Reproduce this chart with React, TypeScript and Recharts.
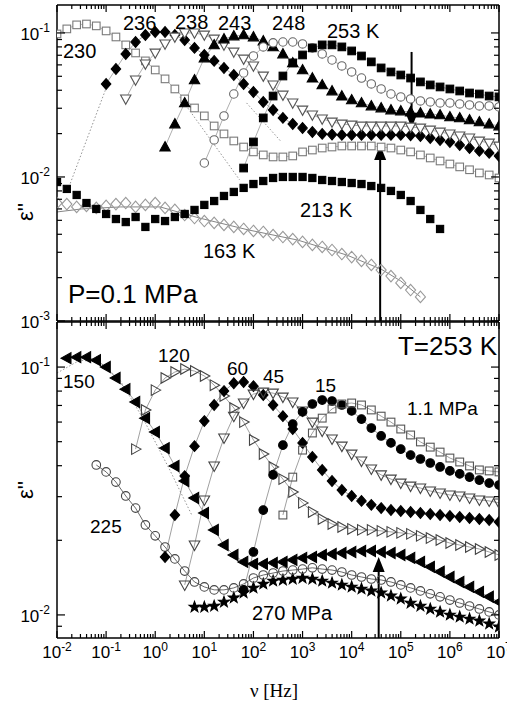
import React from 'react';
import { ComposedChart, Line, XAxis, YAxis, ReferenceLine } from 'recharts';

const W = 507;
const H = 705;
const SANS = 'Liberation Sans, Arial, Helvetica, sans-serif';
const SERIF = 'Liberation Serif, Times New Roman, serif';

// Shared measurement frequencies (Hz), 5 per decade
const NU_HZ = [0.01, 0.01585, 0.02512, 0.03981, 0.0631, 0.1, 0.1585, 0.2512, 0.3981, 0.631,
  1, 1.585, 2.512, 3.981, 6.31, 10, 15.85, 25.12, 39.81, 63.1,
  100, 158.5, 251.2, 398.1, 631, 1000, 1585, 2512, 3981, 6310,
  10000, 15850, 25120, 39810, 63100, 100000, 158500, 251200, 398100, 631000,
  1000000, 1585000, 2512000, 3981000, 6310000, 10000000];

// log10(eps''); `first` = index of first frequency in NU_HZ
// ---- top panel (P = 0.1 MPa), temperatures in K
const T230 = { first: 0, logEps: [-1.007, -0.972, -0.944, -0.938, -0.951, -0.986, -1.028, -1.083, -1.139, -1.194, -1.257, -1.319, -1.389, -1.458, -1.521, -1.576, -1.646, -1.701, -1.75, -1.792, -1.826, -1.847, -1.861, -1.861, -1.854, -1.826, -1.813, -1.799, -1.792, -1.785, -1.785, -1.785, -1.785, -1.792, -1.799, -1.813, -1.826, -1.847, -1.868, -1.889, -1.91, -1.93, -1.95, -1.972, -1.986, -2.007] };
const T236 = { first: 5, logEps: [-1.354, -1.25, -1.146, -1.063, -1.014, -0.993, -0.993, -1.014, -1.049, -1.104, -1.153, -1.194, -1.243, -1.292, -1.354, -1.41, -1.479, -1.535, -1.59, -1.632, -1.66, -1.688, -1.701, -1.705, -1.708, -1.708, -1.708, -1.708, -1.708, -1.708, -1.708, -1.71, -1.715, -1.729, -1.743, -1.757, -1.778, -1.799, -1.819, -1.833, -1.854] };
const T238 = { first: 7, logEps: [-1.458, -1.326, -1.215, -1.139, -1.076, -1.028, -1.0, -1.0, -1.014, -1.042, -1.083, -1.132, -1.181, -1.229, -1.299, -1.361, -1.431, -1.486, -1.535, -1.569, -1.597, -1.618, -1.632, -1.639, -1.646, -1.646, -1.646, -1.646, -1.646, -1.653, -1.66, -1.674, -1.688, -1.701, -1.715, -1.729, -1.75, -1.764, -1.785] };
const T243 = { first: 11, logEps: [-1.792, -1.632, -1.486, -1.326, -1.174, -1.083, -1.042, -1.021, -1.014, -1.028, -1.056, -1.097, -1.146, -1.208, -1.257, -1.313, -1.361, -1.403, -1.438, -1.465, -1.486, -1.507, -1.521, -1.535, -1.542, -1.549, -1.556, -1.563, -1.569, -1.583, -1.59, -1.604, -1.618, -1.632, -1.646] };
const T248 = { first: 15, logEps: [-1.903, -1.743, -1.576, -1.424, -1.278, -1.16, -1.097, -1.069, -1.063, -1.063, -1.076, -1.104, -1.146, -1.188, -1.229, -1.271, -1.313, -1.354, -1.389, -1.424, -1.444, -1.458, -1.472, -1.479, -1.486, -1.486, -1.493, -1.5, -1.507, -1.507, -1.514] };
const T253 = { first: 19, logEps: [-1.938, -1.757, -1.59, -1.438, -1.299, -1.208, -1.153, -1.104, -1.083, -1.083, -1.097, -1.125, -1.16, -1.201, -1.243, -1.271, -1.292, -1.313, -1.34, -1.361, -1.375, -1.389, -1.403, -1.417, -1.424, -1.438, -1.444] };
const T213 = { first: 0, logEps: [-2.035, -2.083, -2.125, -2.181, -2.222, -2.257, -2.292, -2.313, -2.278, -2.347, -2.292, -2.306, -2.278, -2.257, -2.229, -2.194, -2.167, -2.132, -2.104, -2.076, -2.049, -2.028, -2.007, -2.0, -2.0, -2.0, -2.007, -2.021, -2.028, -2.035, -2.042, -2.049, -2.063, -2.076, -2.097, -2.125, -2.167, -2.229, -2.292, -2.361] };
const T163 = { first: 0, logEps: [-2.181, -2.188, -2.208, -2.201, -2.215, -2.201, -2.188, -2.181, -2.208, -2.194, -2.181, -2.215, -2.229, -2.264, -2.285, -2.306, -2.319, -2.333, -2.347, -2.361, -2.375, -2.382, -2.403, -2.417, -2.431, -2.451, -2.472, -2.486, -2.507, -2.535, -2.556, -2.583, -2.611, -2.646, -2.688, -2.736, -2.785, -2.833] };

// ---- bottom panel (T = 253 K), pressures in MPa
const P150 = { first: 1, logEps: [-0.964, -0.96, -0.96, -0.972, -1.0, -1.044, -1.089, -1.141, -1.206, -1.262, -1.327, -1.399, -1.46, -1.528, -1.589, -1.657, -1.718, -1.758, -1.786, -1.794, -1.794, -1.79, -1.786, -1.778, -1.77, -1.766, -1.758, -1.754, -1.75, -1.746, -1.742, -1.742, -1.746, -1.75, -1.758, -1.77, -1.786, -1.806, -1.826, -1.847, -1.867, -1.887, -1.907, -1.927, -1.948] };
const P225 = { first: 4, logEps: [-1.395, -1.423, -1.464, -1.52, -1.569, -1.637, -1.681, -1.726, -1.774, -1.823, -1.867, -1.887, -1.899, -1.899, -1.891, -1.875, -1.851, -1.839, -1.831, -1.823, -1.819, -1.815, -1.81, -1.815, -1.819, -1.827, -1.839, -1.847, -1.855, -1.859, -1.867, -1.879, -1.891, -1.903, -1.915, -1.927, -1.94, -1.952, -1.964, -1.976, -1.988, -2.0] };
const P270 = { first: 14, logEps: [-1.968, -1.968, -1.964, -1.948, -1.931, -1.911, -1.891, -1.875, -1.863, -1.859, -1.855, -1.851, -1.855, -1.863, -1.871, -1.879, -1.887, -1.895, -1.903, -1.911, -1.923, -1.935, -1.952, -1.964, -1.976, -1.988, -2.0, -2.008, -2.016, -2.024, -2.036, -2.048] };
const P120 = { first: 8, logEps: [-1.331, -1.173, -1.093, -1.044, -1.02, -1.008, -1.016, -1.036, -1.073, -1.117, -1.165, -1.222, -1.294, -1.351, -1.403, -1.452, -1.504, -1.548, -1.585, -1.613, -1.633, -1.645, -1.653, -1.657, -1.657, -1.661, -1.665, -1.669, -1.673, -1.681, -1.69, -1.698, -1.71, -1.718, -1.726, -1.734, -1.746, -1.758] };
const P60 = { first: 11, logEps: [-1.766, -1.597, -1.44, -1.319, -1.218, -1.153, -1.097, -1.065, -1.06, -1.077, -1.113, -1.153, -1.198, -1.25, -1.306, -1.363, -1.415, -1.46, -1.496, -1.52, -1.54, -1.556, -1.569, -1.577, -1.581, -1.585, -1.589, -1.593, -1.597, -1.601, -1.605, -1.609, -1.613, -1.617, -1.625] };
const P45 = { first: 13, logEps: [-1.879, -1.718, -1.536, -1.399, -1.286, -1.198, -1.145, -1.109, -1.101, -1.105, -1.121, -1.141, -1.177, -1.222, -1.258, -1.29, -1.319, -1.351, -1.379, -1.411, -1.435, -1.452, -1.468, -1.48, -1.488, -1.5, -1.508, -1.516, -1.52, -1.528, -1.536, -1.54, -1.548] };
const P15 = { first: 19, logEps: [-1.899, -1.746, -1.577, -1.435, -1.315, -1.23, -1.181, -1.149, -1.133, -1.137, -1.153, -1.177, -1.21, -1.246, -1.278, -1.306, -1.331, -1.355, -1.371, -1.387, -1.403, -1.419, -1.431, -1.444, -1.456, -1.468, -1.476] };
const P1_1 = { first: 23, logEps: [-1.597, -1.444, -1.335, -1.266, -1.206, -1.169, -1.149, -1.145, -1.153, -1.173, -1.198, -1.222, -1.25, -1.274, -1.302, -1.323, -1.343, -1.367, -1.383, -1.399, -1.415, -1.419, -1.423] };

// fit / guide curves: [log10(nu), log10(eps'')]
const FIT163: [number, number][] = [[-2.0, -2.243], [-1.5, -2.222], [-0.7, -2.208], [0.1, -2.208], [0.9, -2.285], [1.9, -2.368], [2.9, -2.438], [3.9, -2.542], [4.6, -2.64], [5.0, -2.722], [5.4, -2.833]];
const GUIDE236LOW: [number, number][] = [[-1.78, -2.09], [-0.96, -1.347]];
const GUIDE230HIGH: [number, number][] = [[0.5, -1.444], [1.72, -2.021]];
const GUIDE236HIGH: [number, number][] = [[1.86, -1.486], [2.57, -1.757]];
const GUIDE150: [number, number][] = [[-2.0, -1.024], [-1.533, -0.972], [-1.126, -0.98], [-0.72, -1.052], [-0.252, -1.206], [0.297, -1.415], [0.744, -1.597]];

// arrows: frequency and eps'' span (log10)
const ARROW_TOP_DOWN = { logNu: 5.22, from: -1.132, to: -1.66 };
const ARROW_TOP_UP = { logNu: 4.58, from: -3.0, to: -1.778 };
const ARROW_BOTTOM_UP = { logNu: 4.55, from: -2.093, to: -1.766 };

const X_DOMAIN = [0.01, 1e7];
const TOP_Y_DOMAIN = [0.001, 0.1563];
const BOT_Y_DOMAIN = [0.00807, 0.152];

function buildTicks(lo: number, hi: number, maxVal: number, minVal: number) {
  const out: number[] = [];
  for (let k = lo; k <= hi; k++) {
    for (let m = 1; m <= 9; m++) {
      const v = m * Math.pow(10, k);
      if (v >= minVal * 0.999 && v <= maxVal * 1.001) out.push(v);
    }
  }
  return out;
}
const X_TICKS = buildTicks(-2, 7, 1e7, 0.01);
const TOP_Y_TICKS = buildTicks(-3, -1, 0.1563, 0.001);
const BOT_Y_TICKS = buildTicks(-3, -1, 0.152, 0.00807);

const build = (s: { first: number; logEps: number[] }) =>
  s.logEps.map((le, i) => ({ nu: NU_HZ[s.first + i], eps: Math.pow(10, le) }));
const buildPairs = (pts: [number, number][]) => pts.map(([a, b]) => ({ nu: Math.pow(10, a), eps: Math.pow(10, b) }));

const expOf = (v: number) => Math.round(Math.log10(v));
const isMajor = (v: number) => Math.abs(Math.log10(v) - expOf(v)) < 1e-6;

type Kind = 'square' | 'circle' | 'diamond' | 'up' | 'down' | 'left' | 'right' | 'star';

function markerPath(kind: Kind, cx: number, cy: number, s: number) {
  switch (kind) {
    case 'diamond':
      return `M${cx},${cy - s * 1.25}L${cx + s * 1.1},${cy}L${cx},${cy + s * 1.25}L${cx - s * 1.1},${cy}Z`;
    case 'up':
      return `M${cx},${cy - s * 1.25}L${cx + s * 1.2},${cy + s * 0.9}L${cx - s * 1.2},${cy + s * 0.9}Z`;
    case 'down':
      return `M${cx},${cy + s * 1.25}L${cx + s * 1.2},${cy - s * 0.9}L${cx - s * 1.2},${cy - s * 0.9}Z`;
    case 'left':
      return `M${cx - s * 1.25},${cy}L${cx + s * 0.9},${cy - s * 1.2}L${cx + s * 0.9},${cy + s * 1.2}Z`;
    case 'right':
      return `M${cx + s * 1.25},${cy}L${cx - s * 0.9},${cy - s * 1.2}L${cx - s * 0.9},${cy + s * 1.2}Z`;
    case 'star': {
      let d = '';
      for (let i = 0; i < 10; i++) {
        const a = (-90 + i * 36) * Math.PI / 180;
        const r = i % 2 === 0 ? s * 1.35 : s * 0.55;
        d += `${i === 0 ? 'M' : 'L'}${cx + r * Math.cos(a)},${cy + r * Math.sin(a)}`;
      }
      return d + 'Z';
    }
    default:
      return '';
  }
}

interface SeriesStyle {
  kind: Kind;
  fill: string;
  stroke: string;
  size: number;
  line: string;
}

const makeDot = (st: SeriesStyle) => (p: any) => {
  const { cx, cy, index } = p;
  if (cx == null || cy == null || isNaN(cx) || isNaN(cy)) return <g key={`e${index}`} />;
  const common = { fill: st.fill, stroke: st.stroke, strokeWidth: 1.1 };
  if (st.kind === 'square') {
    return <rect key={`m${index}`} x={cx - st.size} y={cy - st.size} width={st.size * 2} height={st.size * 2} {...common} />;
  }
  if (st.kind === 'circle') {
    return <circle key={`m${index}`} cx={cx} cy={cy} r={st.size} {...common} />;
  }
  return <path key={`m${index}`} d={markerPath(st.kind, cx, cy, st.size)} {...common} />;
};

const OPEN_TOP = '#ffffff';

const TOP_SERIES: { id: string; data: { nu: number; eps: number }[]; st: SeriesStyle }[] = [
  { id: 't163', data: build(T163), st: { kind: 'diamond', fill: 'none', stroke: '#9a9a9a', size: 4.6, line: 'none' } },
  { id: 't213', data: build(T213), st: { kind: 'square', fill: '#000', stroke: '#000', size: 3.6, line: 'none' } },
  { id: 't230', data: build(T230), st: { kind: 'square', fill: OPEN_TOP, stroke: '#7a7a7a', size: 3.8, line: '#aaa' } },
  { id: 't236', data: build(T236), st: { kind: 'diamond', fill: '#000', stroke: '#000', size: 4.3, line: '#999' } },
  { id: 't238', data: build(T238), st: { kind: 'down', fill: OPEN_TOP, stroke: '#555', size: 4.3, line: '#999' } },
  { id: 't243', data: build(T243), st: { kind: 'up', fill: '#000', stroke: '#000', size: 4.3, line: '#999' } },
  { id: 't248', data: build(T248), st: { kind: 'circle', fill: OPEN_TOP, stroke: '#666', size: 4.2, line: '#999' } },
  { id: 't253', data: build(T253), st: { kind: 'square', fill: '#000', stroke: '#000', size: 3.8, line: '#999' } },
];

const BOT_SERIES: { id: string; data: { nu: number; eps: number }[]; st: SeriesStyle }[] = [
  { id: 'p270', data: build(P270), st: { kind: 'star', fill: '#000', stroke: '#000', size: 4.2, line: '#777' } },
  { id: 'p225', data: build(P225), st: { kind: 'circle', fill: 'none', stroke: '#444', size: 4.3, line: '#444' } },
  { id: 'p150', data: build(P150), st: { kind: 'left', fill: '#000', stroke: '#000', size: 4.6, line: '#888' } },
  { id: 'p120', data: build(P120), st: { kind: 'right', fill: 'none', stroke: '#444', size: 4.4, line: '#888' } },
  { id: 'p60', data: build(P60), st: { kind: 'diamond', fill: '#000', stroke: '#000', size: 4.3, line: '#888' } },
  { id: 'p45', data: build(P45), st: { kind: 'down', fill: 'none', stroke: '#444', size: 4.4, line: '#888' } },
  { id: 'p15', data: build(P15), st: { kind: 'circle', fill: '#000', stroke: '#000', size: 4.3, line: '#888' } },
  { id: 'p1_1', data: build(P1_1), st: { kind: 'square', fill: 'none', stroke: '#555', size: 3.9, line: '#888' } },
];

const makeXTick = (side: 'top' | 'bottom', withLabel: boolean) => (props: any) => {
  const { x, y, payload } = props;
  const v = payload.value;
  const major = isMajor(v);
  const len = major ? 7 : 4;
  const dir = side === 'bottom' ? -1 : 1;
  return (
    <g>
      <line x1={x} x2={x} y1={y} y2={y + dir * len} stroke="#000" strokeWidth={1.2} />
      {withLabel && major ? (
        <text x={x} y={y + 20} textAnchor="middle" fontFamily={SANS} fontSize={17} fill="#000">
          10<tspan dy={-7} fontSize={12}>{String(expOf(v))}</tspan>
        </text>
      ) : null}
    </g>
  );
};

const makeYTick = (side: 'left' | 'right', withLabel: boolean) => (props: any) => {
  const { x, y, payload } = props;
  const v = payload.value;
  const major = isMajor(v);
  const len = major ? 8 : 5;
  const dir = side === 'left' ? 1 : -1;
  return (
    <g>
      <line x1={x} x2={x + dir * len} y1={y} y2={y} stroke="#000" strokeWidth={1.2} />
      {withLabel && major ? (
        <text x={x - 7} y={y + 7} textAnchor="end" fontFamily={SANS} fontSize={17} fill="#000">
          10<tspan dy={-8} fontSize={12}>{String(expOf(v))}</tspan>
        </text>
      ) : null}
    </g>
  );
};

const arrowShape = (dir: 'up' | 'down') => (p: any) => {
  const { x1, y1, y2 } = p;
  if (x1 == null || isNaN(x1)) return <g />;
  const tipY = dir === 'up' ? Math.min(y1, y2) : Math.max(y1, y2);
  const tailY = dir === 'up' ? Math.max(y1, y2) : Math.min(y1, y2);
  const s = dir === 'up' ? 1 : -1;
  const hl = 15;
  const hw = 6;
  return (
    <g>
      <line x1={x1} x2={x1} y1={tailY} y2={tipY + s * hl * 0.7} stroke="#000" strokeWidth={2} />
      <path d={`M${x1},${tipY}L${x1 + hw},${tipY + s * hl}L${x1 - hw},${tipY + s * hl}Z`} fill="#000" />
    </g>
  );
};

const AXIS_LINE = { stroke: '#000', strokeWidth: 1.5 };

function renderAxes(yDomain: number[], yTicks: number[], xLabels: boolean) {
  return [
    <XAxis key="xb" xAxisId={0} dataKey="nu" type="number" scale="log" domain={X_DOMAIN} allowDataOverflow
      ticks={X_TICKS} interval={0} height={1} orientation="bottom" tickSize={0} tickMargin={0} tickLine={false}
      axisLine={AXIS_LINE} tick={makeXTick('bottom', xLabels)} />,
    <XAxis key="xt" xAxisId="top" dataKey="nu" type="number" scale="log" domain={X_DOMAIN} allowDataOverflow
      ticks={X_TICKS} interval={0} height={1} orientation="top" tickSize={0} tickMargin={0} tickLine={false}
      axisLine={AXIS_LINE} tick={makeXTick('top', false)} />,
    <YAxis key="yl" yAxisId={0} dataKey="eps" type="number" scale="log" domain={yDomain} allowDataOverflow
      ticks={yTicks} interval={0} width={57} orientation="left" tickSize={0} tickMargin={0} tickLine={false}
      axisLine={AXIS_LINE} tick={makeYTick('left', true)} />,
    <YAxis key="yr" yAxisId="right" dataKey="eps" type="number" scale="log" domain={yDomain} allowDataOverflow
      ticks={yTicks} interval={0} width={1} orientation="right" tickSize={0} tickMargin={0} tickLine={false}
      axisLine={AXIS_LINE} tick={makeYTick('right', false)} />,
  ];
}

const guideLine = (id: string, pts: [number, number][], dash: string, color: string) => (
  <Line key={id} data={buildPairs(pts)} dataKey="eps" stroke={color} strokeWidth={0.9} strokeDasharray={dash}
    dot={false} activeDot={false} isAnimationActive={false} type="linear" />
);

export default function App() {
  return (
    <div style={{ position: 'absolute', left: 0, top: 0, width: W, height: H, background: '#fff', overflow: 'hidden' }}>
      <div style={{ position: 'absolute', left: 0, top: 0 }}>
        <ComposedChart width={W} height={H} margin={{ top: 4, right: 7, bottom: 383, left: 0 }}>
          {renderAxes(TOP_Y_DOMAIN, TOP_Y_TICKS, false)}
          {guideLine('g236l', GUIDE236LOW, '1.5 2', '#888')}
          {guideLine('g230h', GUIDE230HIGH, '1.5 2', '#888')}
          {guideLine('g236h', GUIDE236HIGH, '1.5 2', '#888')}
          {guideLine('fit163', FIT163, '', '#777')}
          {TOP_SERIES.map((s) => (
            <Line key={s.id} data={s.data} dataKey="eps" stroke={s.st.line} strokeWidth={0.8} type="linear"
              dot={makeDot(s.st)} activeDot={false} isAnimationActive={false} />
          ))}
          <ReferenceLine segment={[{ x: Math.pow(10, ARROW_TOP_DOWN.logNu), y: Math.pow(10, ARROW_TOP_DOWN.from) }, { x: Math.pow(10, ARROW_TOP_DOWN.logNu), y: Math.pow(10, ARROW_TOP_DOWN.to) }]}
            ifOverflow="visible" shape={arrowShape('down')} />
          <ReferenceLine segment={[{ x: Math.pow(10, ARROW_TOP_UP.logNu), y: Math.pow(10, ARROW_TOP_UP.from) }, { x: Math.pow(10, ARROW_TOP_UP.logNu), y: Math.pow(10, ARROW_TOP_UP.to) }]}
            ifOverflow="visible" shape={arrowShape('up')} />
        </ComposedChart>
      </div>
      <div style={{ position: 'absolute', left: 0, top: 0 }}>
        <ComposedChart width={W} height={H} margin={{ top: 321, right: 7, bottom: 66, left: 0 }}>
          {renderAxes(BOT_Y_DOMAIN, BOT_Y_TICKS, true)}
          {guideLine('g150', GUIDE150, '1.5 2', '#888')}
          {BOT_SERIES.map((s) => (
            <Line key={s.id} data={s.data} dataKey="eps" stroke={s.st.line} strokeWidth={0.8} type="linear"
              dot={makeDot(s.st)} activeDot={false} isAnimationActive={false} />
          ))}
          <ReferenceLine segment={[{ x: Math.pow(10, ARROW_BOTTOM_UP.logNu), y: Math.pow(10, ARROW_BOTTOM_UP.from) }, { x: Math.pow(10, ARROW_BOTTOM_UP.logNu), y: Math.pow(10, ARROW_BOTTOM_UP.to) }]}
            ifOverflow="visible" shape={arrowShape('up')} />
        </ComposedChart>
      </div>
      <svg width={W} height={H} style={{ position: 'absolute', left: 0, top: 0, pointerEvents: 'none' }}>
        <g fontFamily={SANS} fill="#000">
          <text transform="translate(33,212) rotate(-90)" textAnchor="middle" fontSize={22}>ε''</text>
          <text transform="translate(33,490) rotate(-90)" textAnchor="middle" fontSize={22}>ε''</text>
          <text x={63} y={58} fontSize={20}>230</text>
          <text x={123} y={30} fontSize={20}>236</text>
          <text x={175} y={29} fontSize={20}>238</text>
          <text x={218} y={30} fontSize={20}>243</text>
          <text x={272} y={30} fontSize={20}>248</text>
          <text x={327} y={38} fontSize={20}>253 K</text>
          <text x={300} y={217} fontSize={20}>213 K</text>
          <text x={203} y={258} fontSize={20}>163 K</text>
          <text x={68} y={303} fontSize={26}>P=0.1 MPa</text>
          <text x={497} y={355} fontSize={26} textAnchor="end">T=253 K</text>
          <text x={407} y={415} fontSize={19}>1.1 MPa</text>
          <text x={315} y={392} fontSize={19}>15</text>
          <text x={263} y={383} fontSize={19}>45</text>
          <text x={227} y={375} fontSize={19}>60</text>
          <text x={158} y={362} fontSize={19}>120</text>
          <text x={63} y={388} fontSize={19}>150</text>
          <text x={90} y={533} fontSize={19}>225</text>
          <text x={252} y={620} fontSize={20}>270 MPa</text>
        </g>
        <text x={274} y={697} textAnchor="middle" fontFamily={SERIF} fontSize={19} fill="#000">ν [Hz]</text>
      </svg>
    </div>
  );
}
